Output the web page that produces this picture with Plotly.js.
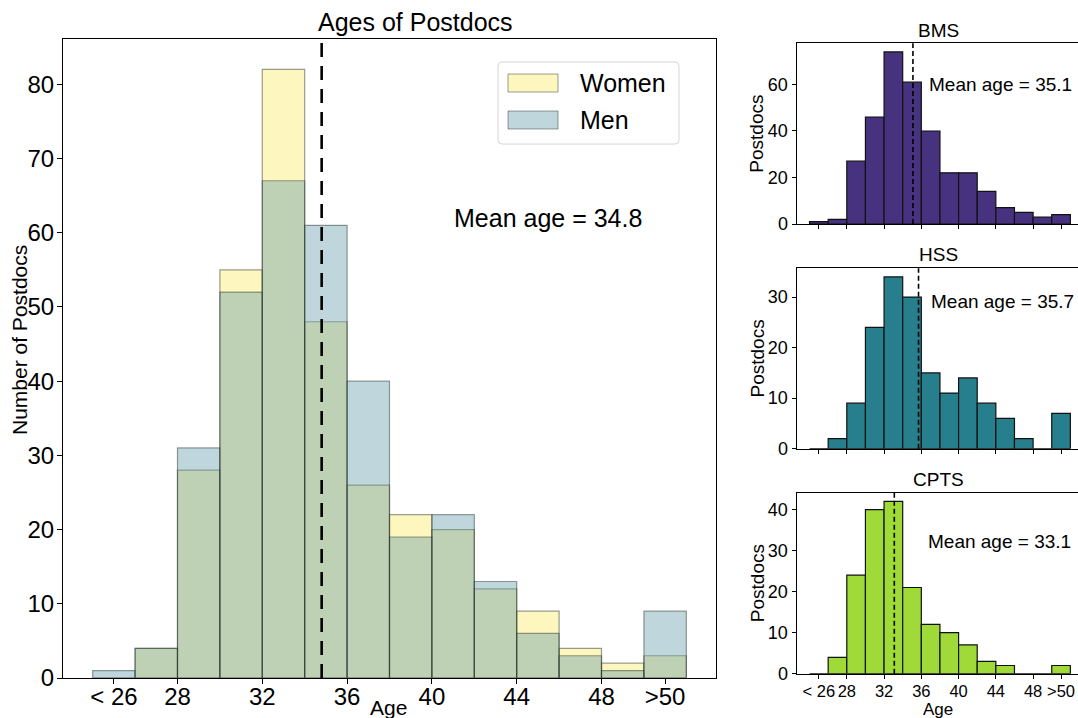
<!DOCTYPE html>
<html>
<head>
<meta charset="utf-8">
<script src="https://cdn.plot.ly/plotly-3.0.1.min.js"></script>
<style>
  html, body { margin: 0; padding: 0; background: #fff; }
  #chart { width: 1078px; height: 718px; }
</style>
</head>
<body>
<div id="chart"></div>
<script>
// Age bins are two years wide; each bar sits at the bin centre.
const binCenters = [25, 27, 29, 31, 33, 35, 37, 39, 41, 43, 45, 47, 49, 51];
const binWidth = 2;

// All postdocs, split by gender
const women = [0, 4, 28, 55, 82, 48, 26, 22, 20, 12, 9, 4, 2, 3];
const men   = [1, 4, 31, 52, 67, 61, 40, 19, 22, 13, 6, 3, 1, 9];

// Per-division counts
const bms  = [1, 2, 27, 46, 74, 61, 40, 22, 22, 14, 7, 5, 3, 4];
const hss  = [0, 2, 9, 24, 34, 30, 15, 11, 14, 9, 6, 2, 0, 7];
const cpts = [0, 4, 24, 40, 42, 21, 12, 10, 7, 3, 2, 0, 0, 2];

const divisionNames = ["BMS", "HSS", "CPTS"];
const meanAll = 34.8;
const divisionMeans = [35.1, 35.7, 33.1];

const tickVals = [25, 28, 32, 36, 40, 44, 48, 51];
const tickText = ["< 26", "28", "32", "36", "40", "44", "48", ">50"];

const W = 1078, H = 718;
const FONT = "Liberation Sans, Arial, Helvetica, sans-serif";
const px = x => x / W;
const py = y => 1 - y / H;

const womenFill = "rgba(250,232,95,0.4)";
const menFill = "rgba(95,155,167,0.4)";
const edgeMain = "rgba(30,40,30,0.45)";
const divisionColors = ["#46327e", "#277f8e", "#a0da39"];

const traces = [
  {
    type: "bar", x: binCenters, y: women, width: binWidth, name: "Women",
    marker: { color: womenFill, line: { color: edgeMain, width: 1.2 } },
    xaxis: "x", yaxis: "y", hoverinfo: "x+y"
  },
  {
    type: "bar", x: binCenters, y: men, width: binWidth, name: "Men",
    marker: { color: menFill, line: { color: edgeMain, width: 1.2 } },
    xaxis: "x", yaxis: "y", hoverinfo: "x+y"
  }
];

const divisionData = [bms, hss, cpts];
divisionData.forEach((d, i) => {
  traces.push({
    type: "bar", x: binCenters, y: d, width: binWidth, name: divisionNames[i],
    marker: { color: divisionColors[i], line: { color: "#111", width: 1.2 } },
    xaxis: "x" + (i + 2), yaxis: "y" + (i + 2), hoverinfo: "x+y"
  });
});

const baseAxis = {
  showgrid: false, zeroline: false, showline: true, linecolor: "#000", linewidth: 1,
  ticks: "outside", tickcolor: "#000", tickwidth: 1,
  tickfont: { family: FONT, size: 18, color: "#000" }
};

const layout = {
  width: W, height: H,
  margin: { l: 0, r: 0, t: 0, b: 0 },
  paper_bgcolor: "#fff", plot_bgcolor: "#fff",
  barmode: "overlay",
  showlegend: false,
  font: { family: FONT, color: "#000" },
  xaxis: Object.assign({}, baseAxis, {
    domain: [px(63), px(716)], range: [22.6, 53.4], mirror: true,
    tickmode: "array", tickvals: tickVals, ticktext: tickText, ticklen: 5, tickangle: 0,
    ticklabelstandoff: -8,
    tickfont: { family: FONT, size: 24, color: "#000" }, anchor: "y"
  }),
  yaxis: Object.assign({}, baseAxis, {
    domain: [py(678), py(39)], range: [0, Math.max(...women, ...men) * 1.05], mirror: true,
    dtick: 10, ticklen: 5, ticklabelstandoff: -2,
    tickfont: { family: FONT, size: 24, color: "#000" }, anchor: "x"
  }),
  shapes: [],
  annotations: []
};

// Division panels: stacked on the right, sharing the age axis
const panelTops = [43.3, 268.3, 492.7];
const panelBottoms = [224, 448.7, 673.7];
const panelDtick = [20, 10, 10];
divisionData.forEach((d, i) => {
  const n = i + 2;
  layout["xaxis" + n] = Object.assign({}, baseAxis, {
    domain: [px(796.5), 1], range: [22.6, 52.82], mirror: true,
    tickmode: "array", tickvals: tickVals, ticktext: tickText, ticklen: 4, tickangle: 0,
    ticklabelstandoff: -2,
    tickfont: { family: FONT, size: 16.5, color: "#000" },
    showticklabels: i === 2, anchor: "y" + n
  });
  layout["yaxis" + n] = Object.assign({}, baseAxis, {
    domain: [py(panelBottoms[i]), py(panelTops[i])], range: [0, Math.max(...d) * 1.05],
    dtick: panelDtick[i], ticklen: 4, mirror: false, anchor: "x" + n
  });
  // mean age marker
  layout.shapes.push({
    type: "line", xref: "x" + n, yref: "y" + n + " domain",
    x0: divisionMeans[i], x1: divisionMeans[i], y0: 0, y1: 1,
    line: { color: "#000", width: 1.6, dash: "5px,3px" }
  });
  layout.annotations.push({
    xref: "paper", yref: "paper", x: px(938), y: py([30, 254, 479][i]),
    text: divisionNames[i], showarrow: false, xanchor: "center", yanchor: "middle",
    font: { family: FONT, size: 19, color: "#000" }
  });
  layout.annotations.push({
    xref: "paper", yref: "paper", x: px([927, 929, 926][i]), y: py([84, 301, 541][i]),
    text: "Mean age = " + divisionMeans[i].toFixed(1), showarrow: false,
    xanchor: "left", yanchor: "middle",
    font: { family: FONT, size: 19, color: "#000" }
  });
  layout.annotations.push({
    xref: "paper", yref: "paper", x: px(757), y: py((panelTops[i] + panelBottoms[i]) / 2),
    text: "Postdocs", showarrow: false, textangle: -90,
    xanchor: "center", yanchor: "middle",
    font: { family: FONT, size: 19, color: "#000" }
  });
});

// Overall mean line
layout.shapes.push({
  type: "line", xref: "x", yref: "y domain", x0: meanAll, x1: meanAll, y0: 0, y1: 1,
  line: { color: "#000", width: 2.6, dash: "14px,9px" }
});

// Legend box with wide patches
layout.shapes.push({
  type: "path", xref: "paper", yref: "paper",
  path: (() => {
    const x0 = px(498), x1 = px(679), y0 = py(144), y1 = py(62);
    const rx = 4 / W, ry = 4 / H;
    return `M${x0 + rx},${y0} L${x1 - rx},${y0} Q${x1},${y0} ${x1},${y0 + ry} L${x1},${y1 - ry} Q${x1},${y1} ${x1 - rx},${y1} L${x0 + rx},${y1} Q${x0},${y1} ${x0},${y1 - ry} L${x0},${y0 + ry} Q${x0},${y0} ${x0 + rx},${y0} Z`;
  })(),
  line: { color: "#d6d6d6", width: 1 }, fillcolor: "rgba(255,255,255,0.8)"
});
[["Women", womenFill, 83], ["Men", menFill, 120]].forEach(([label, fill, yc]) => {
  layout.shapes.push({
    type: "rect", xref: "paper", yref: "paper",
    x0: px(508), x1: px(558), y0: py(yc + 9), y1: py(yc - 9),
    fillcolor: fill, line: { color: edgeMain, width: 1 }
  });
  layout.annotations.push({
    xref: "paper", yref: "paper", x: px(578), y: py(yc), text: label,
    showarrow: false, xanchor: "left", yanchor: "middle",
    font: { family: FONT, size: 25, color: "#000" }
  });
});

// Titles and labels for the main panel
layout.annotations.push(
  {
    xref: "paper", yref: "paper", x: px(415), y: py(22), text: "Ages of Postdocs",
    showarrow: false, xanchor: "center", yanchor: "middle",
    font: { family: FONT, size: 25, color: "#000" }
  },
  {
    xref: "paper", yref: "paper", x: px(452), y: py(218), text: "Mean age = " + meanAll.toFixed(1),
    showarrow: false, xanchor: "left", yanchor: "middle",
    font: { family: FONT, size: 25, color: "#000" }
  },
  {
    xref: "paper", yref: "paper", x: px(388), y: py(707), text: "Age",
    showarrow: false, xanchor: "center", yanchor: "middle",
    font: { family: FONT, size: 21, color: "#000" }
  },
  {
    xref: "paper", yref: "paper", x: px(20), y: py(340), text: "Number of Postdocs",
    showarrow: false, textangle: -90, xanchor: "center", yanchor: "middle",
    font: { family: FONT, size: 21, color: "#000" }
  },
  {
    xref: "paper", yref: "paper", x: px(938), y: py(709), text: "Age",
    showarrow: false, xanchor: "center", yanchor: "middle",
    font: { family: FONT, size: 17, color: "#000" }
  }
);

Plotly.newPlot("chart", traces, layout, { displayModeBar: false, staticPlot: true });
</script>
</body>
</html>
